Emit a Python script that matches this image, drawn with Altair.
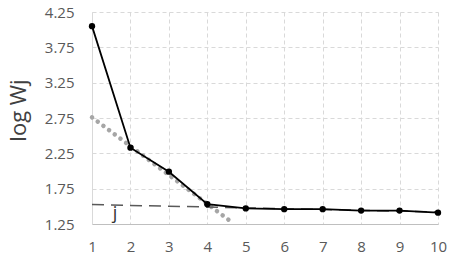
import altair as alt
import pandas as pd

# main series
xs = [1, 2, 3, 4, 5, 6, 7, 8, 9, 10]
log_wj = [4.05, 2.33, 1.99, 1.53, 1.47, 1.46, 1.46, 1.44, 1.44, 1.41]

# fitted line through the steep part (gray dotted)
steep_x = [1, 4.65]
steep_y = [2.76, 1.27]

# fitted line through the flat part (dashed)
flat_x = [1, 10]
flat_y = [1.525, 1.42]

# annotation
label_x = [1.6]
label_y = [1.32]
label_text = ["j"]

y_ticks = [1.25, 1.75, 2.25, 2.75, 3.25, 3.75, 4.25]

main = pd.DataFrame({"x": xs, "y": log_wj})
steep = pd.DataFrame({"x": steep_x, "y": steep_y})
flat = pd.DataFrame({"x": flat_x, "y": flat_y})
lab = pd.DataFrame({"x": label_x, "y": label_y, "t": label_text})

xsc = alt.Scale(domain=[1, 10], nice=False, zero=False)
ysc = alt.Scale(domain=[1.25, 4.25], nice=False, zero=False)

xaxis = alt.Axis(values=xs, title=None, format="d",
                 grid=True, gridColor="#d9d9d9", gridDash=[4, 3], ticks=False,
                 domainColor="#bfbfbf", labelPadding=15, labelOverlap=False,
                 labelFlush=False, labelBound=False)
yaxis = alt.Axis(values=y_ticks, format=".2f", title="log Wj",
                 grid=True, gridColor="#d9d9d9", gridDash=[4, 3], ticks=False,
                 domainColor="#d9d9d9", labelPadding=18, labelOverlap=False,
                 labelFlush=False, labelBound=False,
                 titleX=-74, titleY=98, titleAngle=270, titleAlign="center",
                 titleBaseline="middle", titleFontSize=22, titleFontWeight="normal",
                 titleColor="#404040", titleFont="Open Sans")

X = alt.X("x:Q", scale=xsc, axis=xaxis)
Y = alt.Y("y:Q", scale=ysc, axis=yaxis)

dotted = alt.Chart(steep).mark_line(color="#a6a6a6", strokeWidth=4.5, strokeDash=[0.1, 7],
                                    strokeCap="round").encode(x=X, y=Y)
dashed = alt.Chart(flat).mark_line(color="#595959", strokeWidth=1.5, strokeDash=[12, 7]).encode(
    x=X, y=Y)
line = alt.Chart(main).mark_line(color="#000000", strokeWidth=1.8).encode(x=X, y=Y)
pts = alt.Chart(main).mark_point(filled=True, color="#000000", size=40, opacity=1).encode(
    x=X, y=Y)
txt = alt.Chart(lab).mark_text(font="Open Sans", fontSize=18, color="#333333",
                               baseline="alphabetic", align="center").encode(
    x=X, y=Y, text="t:N")

chart = alt.layer(dotted, dashed, line, pts, txt).properties(
    width=346, height=212, autosize="none",
    padding={"left": 92, "top": 12, "right": 13, "bottom": 38},
    background="white",
).configure_view(stroke=None).configure_axis(
    labelFont="Open Sans", labelFontSize=15, labelColor="#595959", labelOverlap=False
)

chart.save("out.html", embed_options={"renderer": "svg", "actions": False})
